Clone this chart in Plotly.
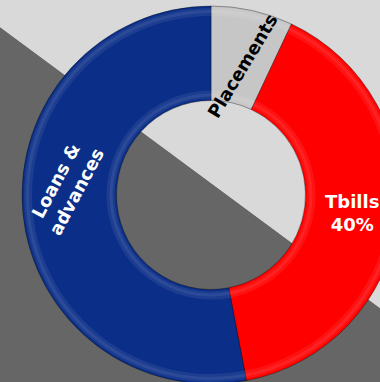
import math
import plotly.graph_objects as go

# Asset mix (share of total, %)
categories = ["Placements", "Tbills", "Loans &<br>advances"]
values = [7, 40, 53]
slice_colors = ["#c6c6c6", "#ff0000", "#0b2f88"]
text_colors = ["#000000", "#ffffff", "#ffffff"]
show_pct = [False, True, False]

W, H = 400, 384
CX, CY, R_OUT = 211, 195, 189
HOLE = 0.5
R_IN = R_OUT * HOLE


def ring_domain(r):
    return dict(x=[(CX - r) / W, (CX + r) / W],
                y=[1 - (CY + r) / H, 1 - (CY - r) / H])


fig = go.Figure()

# Diagonal two-tone backdrop
fig.add_shape(type="path", xref="paper", yref="paper",
              path=f"M 0 0 L 0 {1 - 27 / H} L {380 / W} {1 - 308 / H} L {380 / W} 0 Z",
              fillcolor="#666666", line_width=0, layer="below")
fig.add_shape(type="path", xref="paper", yref="paper",
              path=f"M 0 1 L 0 {1 - 27 / H} L {380 / W} {1 - 308 / H} L 1 {1 - 323 / H} L 1 1 Z",
              fillcolor="#d9d9d9", line_width=0, layer="below")

fig.add_trace(go.Pie(
    labels=categories,
    values=values,
    hole=HOLE,
    sort=False,
    direction="clockwise",
    rotation=0,
    marker=dict(colors=slice_colors, line=dict(color="rgba(0,0,0,0.35)", width=1)),
    textinfo="none",
    hoverinfo="label+percent",
    showlegend=False,
    domain=ring_domain(R_OUT),
))

# Soft bevel highlights along the outer and inner rims of the ring
bevel_bands = [
    (R_OUT - 2, R_OUT - 10, 0.07),
    (R_OUT - 4, R_OUT - 7, 0.07),
    (R_IN + 10, R_IN + 2, 0.07),
    (R_IN + 7, R_IN + 4, 0.07),
]
for r_hi, r_lo, alpha in bevel_bands:
    fig.add_trace(go.Pie(
        labels=categories,
        values=values,
        hole=r_lo / r_hi,
        sort=False,
        direction="clockwise",
        rotation=0,
        marker=dict(colors=[f"rgba(255,255,255,{alpha})"] * len(values),
                    line=dict(width=0)),
        textinfo="none",
        hoverinfo="skip",
        showlegend=False,
        domain=ring_domain(r_hi),
    ))

# Label placement: (angle nudge in degrees, radius as fraction of outer radius, text rotation)
label_style = {
    "Placements": (1, 0.70, -59),
    "Tbills": (0, 0.75, 0),
    "Loans &<br>advances": (9, 0.77, -62),
}

total = sum(values)
start = 0.0
for name, v, tc, sp in zip(categories, values, text_colors, show_pct):
    span = 360.0 * v / total
    nudge, rf, rot = label_style[name]
    mid = math.radians(start + span / 2 + nudge)
    r = R_OUT * rf
    px = CX + r * math.sin(mid)
    py = CY - r * math.cos(mid)
    txt = f"<b>{name}</b>"
    if sp:
        txt += f"<br><b>{100 * v / total:.0f}%</b>"
    fig.add_annotation(x=px / W, y=1 - py / H, xref="paper", yref="paper",
                       text=txt, showarrow=False, textangle=rot,
                       xanchor="center", yanchor="middle",
                       font=dict(family="DejaVu Sans, sans-serif", size=18, color=tc))
    start += span

fig.update_layout(width=W, height=H, margin=dict(l=0, r=0, t=0, b=0),
                  paper_bgcolor="#d9d9d9", plot_bgcolor="#d9d9d9")

fig.write_html("out.html",
               config={"displayModeBar": False},
               post_script="document.body.style.margin='0';"
                           "document.body.style.overflow='hidden';"
                           "document.documentElement.style.overflow='hidden';")
